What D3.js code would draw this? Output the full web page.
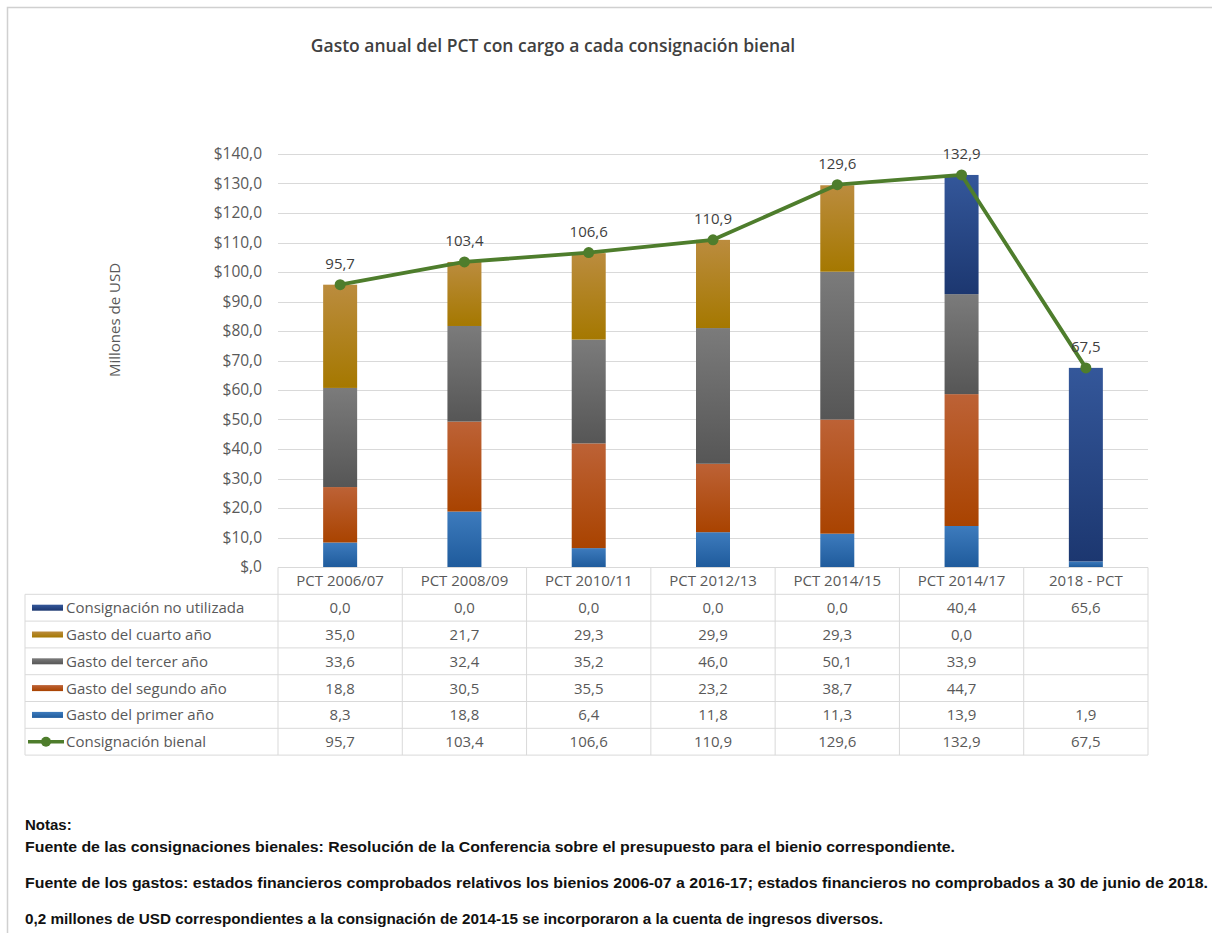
<!DOCTYPE html>
<html>
<head>
<meta charset="utf-8">
<script src="https://cdn.jsdelivr.net/npm/d3@7"></script>
<style>
  body { margin: 0; background: #fff; }
  svg { display: block; }
</style>
</head>
<body>
<div id="chart"></div>
<script>
// Chart values
const categories = ['PCT 2006/07', 'PCT 2008/09', 'PCT 2010/11', 'PCT 2012/13', 'PCT 2014/15', 'PCT 2014/17', '2018 - PCT'];
const primerAno = [8.3, 18.8, 6.4, 11.8, 11.3, 13.9, 1.9];
const segundoAno = [18.8, 30.5, 35.5, 23.2, 38.7, 44.7, null];
const tercerAno = [33.6, 32.4, 35.2, 46.0, 50.1, 33.9, null];
const cuartoAno = [35.0, 21.7, 29.3, 29.9, 29.3, 0.0, null];
const noUtilizada = [0.0, 0.0, 0.0, 0.0, 0.0, 40.4, 65.6];
const consignacion = [95.7, 103.4, 106.6, 110.9, 129.6, 132.9, 67.5];
const yTicks = [0, 10, 20, 30, 40, 50, 60, 70, 80, 90, 100, 110, 120, 130, 140];

const notes = [
    'Fuente de las consignaciones bienales: Resolución de la Conferencia sobre el presupuesto para el bienio correspondiente.',
    'Fuente de los gastos: estados financieros comprobados relativos los bienios 2006-07 a 2016-17; estados financieros no comprobados a 30 de junio de 2018.',
    '0,2 millones de USD correspondientes a la consignación de 2014-15 se incorporaron a la cuenta de ingresos diversos.'
];

// stack order bottom -> top
const series = [
    { key: 'primer', name: 'Gasto del primer año', values: primerAno, top: '#3d7bbd', bottom: '#1f5b9c' },
    { key: 'segundo', name: 'Gasto del segundo año', values: segundoAno, top: '#bd6236', bottom: '#a94300' },
    { key: 'tercer', name: 'Gasto del tercer año', values: tercerAno, top: '#7b7b7b', bottom: '#565656' },
    { key: 'cuarto', name: 'Gasto del cuarto año', values: cuartoAno, top: '#bb8c3e', bottom: '#a57800' },
    { key: 'noutil', name: 'Consignación no utilizada', values: noUtilizada, top: '#34579a', bottom: '#1c3770' }
];
// table row order (top -> bottom)
const tableRows = [series[4], series[3], series[2], series[1], series[0]];

const width = 1212, height = 933;
const font = '"Open Sans", sans-serif';
const textGray = '#595959';
const lineGreen = '#4e7d2c';

const svg = d3.select('#chart').append('svg')
    .attr('width', width)
    .attr('height', height)
    .style('font-family', font);

// outer frame
svg.append('path')
    .attr('d', `M7.5,${height} V7.5 H${width}`)
    .attr('fill', 'none')
    .attr('stroke', '#d0d0d0')
    .attr('stroke-width', 1.5);

// Title
svg.append('text')
    .attr('x', 553)
    .attr('y', 52)
    .attr('text-anchor', 'middle')
    .attr('font-size', 17.5)
    .attr('font-weight', 600)
    .attr('fill', '#404040')
    .text('Gasto anual del PCT con cargo a cada consignación bienal');

// Scales
const plotLeft = 278, plotRight = 1148;
const x = d3.scaleBand().domain(categories).range([plotLeft, plotRight]);
const y = d3.scaleLinear().domain([0, 140]).range([567, 154]);
const barW = 34;

// gradients
const defs = svg.append('defs');
series.forEach(s => {
    const g = defs.append('linearGradient')
        .attr('id', 'grad-' + s.key)
        .attr('x1', 0).attr('y1', 0).attr('x2', 0).attr('y2', 1);
    g.append('stop').attr('offset', '0%').attr('stop-color', s.top);
    g.append('stop').attr('offset', '100%').attr('stop-color', s.bottom);
});

// gridlines
svg.append('g')
    .selectAll('line')
    .data(yTicks.filter(t => t > 0))
    .join('line')
    .attr('x1', plotLeft)
    .attr('x2', plotRight)
    .attr('y1', d => Math.round(y(d)) + 0.5)
    .attr('y2', d => Math.round(y(d)) + 0.5)
    .attr('stroke', '#d9d9d9')
    .attr('stroke-width', 1);

// y axis
const yAxis = svg.append('g')
    .attr('transform', `translate(${plotLeft},0)`)
    .call(d3.axisLeft(y).tickValues(yTicks)
        .tickSize(0).tickPadding(16)
        .tickFormat(d => '$' + (d === 0 ? ',0' : d3.format('.1f')(d).replace('.', ','))));
yAxis.select('.domain').remove();
yAxis.selectAll('text')
    .attr('font-size', 15.5)
    .attr('font-family', font)
    .attr('fill', textGray);

svg.append('text')
    .attr('transform', 'translate(120,320) rotate(-90)')
    .attr('text-anchor', 'middle')
    .attr('font-size', 15)
    .attr('fill', textGray)
    .text('Millones de USD');

// stacked bars
const stackData = categories.map((c, i) => {
    const o = { cat: c };
    series.forEach(s => { o[s.key] = s.values[i] || 0; });
    return o;
});
const stack = d3.stack().keys(series.map(s => s.key))(stackData);

svg.append('g')
    .selectAll('g')
    .data(stack)
    .join('g')
    .attr('fill', d => `url(#grad-${d.key})`)
    .selectAll('rect')
    .data(d => d)
    .join('rect')
    .attr('x', d => x(d.data.cat) + x.bandwidth() / 2 - barW / 2)
    .attr('width', barW)
    .attr('y', d => y(d[1]))
    .attr('height', d => Math.max(0, y(d[0]) - y(d[1])));

// line
const line = d3.line()
    .x((d, i) => x(categories[i]) + x.bandwidth() / 2)
    .y(d => y(d));

svg.append('path')
    .datum(consignacion)
    .attr('d', line)
    .attr('fill', 'none')
    .attr('stroke', lineGreen)
    .attr('stroke-width', 3.8)
    .attr('stroke-linejoin', 'round');

svg.append('g')
    .selectAll('circle')
    .data(consignacion)
    .join('circle')
    .attr('cx', (d, i) => x(categories[i]) + x.bandwidth() / 2)
    .attr('cy', d => y(d))
    .attr('r', 5.5)
    .attr('fill', lineGreen);

const fmt = v => d3.format('.1f')(v).replace('.', ',');

svg.append('g')
    .selectAll('text')
    .data(consignacion)
    .join('text')
    .attr('x', (d, i) => x(categories[i]) + x.bandwidth() / 2)
    .attr('y', d => y(d) - 16)
    .attr('text-anchor', 'middle')
    .attr('font-size', 15)
    .attr('fill', '#404040')
    .text(d => fmt(d));

// data table
const tableLeft = 25;
const rowH = 26.8;
const headTop = 567.5;
const gridColor = '#d9d9d9';
const table = svg.append('g');

// header row
table.selectAll('text.head')
    .data(categories)
    .join('text')
    .attr('class', 'head')
    .attr('x', d => x(d) + x.bandwidth() / 2)
    .attr('y', headTop + rowH / 2 + 5.5)
    .attr('text-anchor', 'middle')
    .attr('font-size', 15)
    .attr('fill', textGray)
    .text(d => d);

const allRows = tableRows.map(s => ({ name: s.name, values: s.values, series: s }))
    .concat([{ name: 'Consignación bienal', values: consignacion, isLine: true }]);

const rowsTop = headTop + rowH;

// horizontal lines
table.append('line')
    .attr('x1', plotLeft).attr('x2', plotRight)
    .attr('y1', headTop).attr('y2', headTop)
    .attr('stroke', gridColor);
d3.range(allRows.length + 1).forEach(r => {
    table.append('line')
        .attr('x1', tableLeft).attr('x2', plotRight)
        .attr('y1', rowsTop + r * rowH).attr('y2', rowsTop + r * rowH)
        .attr('stroke', gridColor);
});
// vertical lines
table.append('line')
    .attr('x1', tableLeft).attr('x2', tableLeft)
    .attr('y1', rowsTop).attr('y2', rowsTop + allRows.length * rowH)
    .attr('stroke', gridColor);
categories.concat([null]).forEach((c, i) => {
    const xx = c ? x(c) : plotRight;
    table.append('line')
        .attr('x1', xx).attr('x2', xx)
        .attr('y1', headTop).attr('y2', rowsTop + allRows.length * rowH)
        .attr('stroke', gridColor);
});

const row = table.selectAll('g.row')
    .data(allRows)
    .join('g')
    .attr('class', 'row')
    .attr('transform', (d, i) => `translate(0,${rowsTop + i * rowH})`);

row.each(function(d) {
    const g = d3.select(this);
    if (d.isLine) {
        g.append('line')
            .attr('x1', 28).attr('x2', 64)
            .attr('y1', rowH / 2).attr('y2', rowH / 2)
            .attr('stroke', lineGreen).attr('stroke-width', 3.5);
        g.append('circle')
            .attr('cx', 46).attr('cy', rowH / 2).attr('r', 5)
            .attr('fill', lineGreen);
    } else {
        g.append('rect')
            .attr('x', 32).attr('y', rowH / 2 - 3)
            .attr('width', 31).attr('height', 6)
            .attr('fill', `url(#grad-${d.series.key})`);
    }
    g.append('text')
        .attr('x', 66)
        .attr('y', rowH / 2 + 5.5)
        .attr('font-size', 15)
        .attr('fill', textGray)
        .text(d.name);
    g.selectAll('text.val')
        .data(d.values)
        .join('text')
        .attr('class', 'val')
        .attr('x', (v, i) => x(categories[i]) + x.bandwidth() / 2)
        .attr('y', rowH / 2 + 5.5)
        .attr('text-anchor', 'middle')
        .attr('font-size', 15)
        .attr('fill', textGray)
        .text(v => v == null ? '' : fmt(v));
});

// notes
const noteFont = '"Liberation Sans Narrow", "Arial Narrow", "Liberation Sans", sans-serif';
svg.append('text')
    .attr('x', 25)
    .attr('y', 830)
    .attr('font-family', noteFont)
    .attr('font-size', 15)
    .attr('font-weight', 700)
    .attr('fill', '#111')
    .text('Notas:');

const noteY = [852, 888, 924];
const noteW = [930, 1183, 858];
svg.append('g')
    .selectAll('text')
    .data(notes)
    .join('text')
    .attr('x', 25)
    .attr('y', (d, i) => noteY[i])
    .attr('font-family', noteFont)
    .attr('font-size', 15)
    .attr('font-weight', 700)
    .attr('fill', '#111')
    .attr('textLength', (d, i) => noteW[i])
    .attr('lengthAdjust', 'spacingAndGlyphs')
    .text(d => d);
</script>
</body>
</html>
